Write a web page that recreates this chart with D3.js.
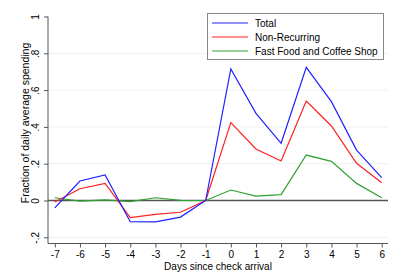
<!DOCTYPE html>
<html><head><meta charset="utf-8">
<script src="https://cdn.jsdelivr.net/npm/d3@7"></script>
<style>body{margin:0;background:#fff}svg{display:block}text{font-family:"Liberation Sans",Arial,sans-serif}</style>
</head><body><svg id="c" width="410" height="275"></svg>
<script>
const days = [-7,-6,-5,-4,-3,-2,-1,0,1,2,3,4,5,6];
const total = [-0.04,0.106,0.139,-0.115,-0.116,-0.09,0,0.715,0.474,0.311,0.724,0.537,0.274,0.124];
const nonRecurring = [-0.008,0.064,0.093,-0.093,-0.075,-0.064,0,0.423,0.28,0.215,0.541,0.405,0.202,0.097];
const fastFood = [0.015,-0.003,0.003,-0.006,0.015,0.001,0,0.057,0.024,0.032,0.247,0.213,0.093,0.015];
const yTicks = [-0.2,0,0.2,0.4,0.6,0.8,1];
const yTickLabels = ["-.2","0",".2",".4",".6",".8","1"];
const seriesNames = ["Total","Non-Recurring","Fast Food and Coffee Shop"];
const seriesColors = ["#2020ff","#ff2020","#30a030"];

const svg = d3.select("#c");
const x = d3.scaleLinear().domain([-7,6]).range([54.8,381.7]);
const y = d3.scaleLinear().domain([0,1]).range([200.5,16.5]);
const left = 48, right = 388, bottom = 243.5;

// gridlines
svg.append("g").selectAll("line").data(yTicks.filter(d=>d!==0 && d!==1)).join("line")
  .attr("x1",left).attr("x2",right).attr("y1",d=>y(d)).attr("y2",d=>y(d))
  .attr("stroke","#eaf2f3").attr("stroke-width",1);

// zero line
svg.append("line").attr("x1",left).attr("x2",right).attr("y1",y(0)).attr("y2",y(0))
  .attr("stroke","#555").attr("stroke-width",1.5);

// y axis
const yAxis = d3.axisLeft(y).tickValues(yTicks).tickFormat((d,i)=>yTickLabels[i]).tickSize(4).tickSizeOuter(0);
const gy = svg.append("g").attr("transform",`translate(${left},0)`).call(yAxis);
gy.select(".domain").attr("stroke","#555").attr("d",`M0,${y(1)}V${bottom}`);
gy.selectAll(".tick line").attr("stroke","#555");
gy.selectAll(".tick text").attr("transform","rotate(-90)").attr("x",0).attr("y",-9).attr("dy","0")
  .attr("text-anchor","middle").attr("font-size",10).attr("fill","#000");

// x axis
const xAxis = d3.axisBottom(x).tickValues(days).tickFormat(d3.format("d")).tickSize(4).tickSizeOuter(0);
const gx = svg.append("g").attr("transform",`translate(0,${bottom})`).call(xAxis);
gx.select(".domain").attr("stroke","#555").attr("d",`M${left},0H${right}`);
gx.selectAll(".tick line").attr("stroke","#555");
gx.selectAll(".tick text").attr("font-size",10).attr("fill","#000").attr("y",14.5).attr("dy","0")
  .text(d=>d<0?"-"+Math.abs(d):d);

// titles
svg.append("text").attr("x",218).attr("y",269.5).attr("text-anchor","middle").attr("font-size",10).text("Days since check arrival");
svg.append("text").attr("transform","translate(29,123) rotate(-90)").attr("text-anchor","middle").attr("font-size",10.5).text("Fraction of daily average spending");

// lines
const data = [total, nonRecurring, fastFood];
const line = d3.line().x((d,i)=>x(days[i])).y(d=>y(d));
[2,1,0].forEach(k=>{
  svg.append("path").attr("d",line(data[k])).attr("fill","none").attr("stroke",seriesColors[k]).attr("stroke-width",1.2);
});

// legend
const lg = svg.append("g");
lg.append("rect").attr("x",207.5).attr("y",13.5).attr("width",176).attr("height",46).attr("fill","#fff").attr("stroke","#888");
seriesNames.forEach((n,i)=>{
  const yy = 23 + i*14;
  lg.append("line").attr("x1",212).attr("x2",248).attr("y1",yy).attr("y2",yy).attr("stroke",seriesColors[i]).attr("stroke-width",1.2);
  lg.append("text").attr("x",255).attr("y",yy).attr("dy","0.35em").attr("font-size",10).text(n);
});
</script></body></html>
